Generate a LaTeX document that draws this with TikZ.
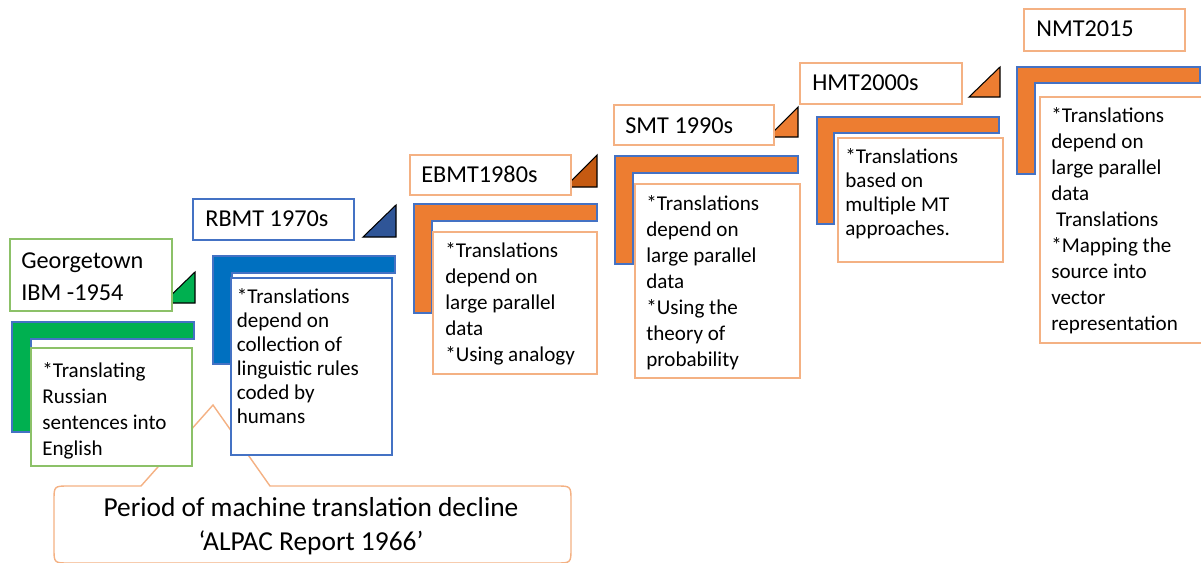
\documentclass[tikz,border=0pt]{standalone}
\usepackage{fontspec}
\setmainfont{Carlito}
\definecolor{grn}{HTML}{00B050}
\definecolor{grnline}{HTML}{8CC168}
\definecolor{blu}{HTML}{0070C0}
\definecolor{bluline}{HTML}{4472C4}
\definecolor{darkblu}{HTML}{2F5597}
\definecolor{org}{HTML}{ED7D31}
\definecolor{darkorg}{HTML}{C55A11}
\definecolor{orgline}{HTML}{F4B183}
\begin{document}
\begin{tikzpicture}
[x=0.02cm,y=-0.02cm,
 bar/.style={draw=bluline,line width=0.6pt},
 tri/.style={draw=black,line width=0.6pt},
 box/.style={fill=white,line width=0.7pt},
 title/.style={anchor=north west,inner sep=0pt,align=left,font=\fontsize{13.8}{18}\selectfont},
 desc/.style={anchor=north west,inner sep=0pt,align=left,font=\fontsize{12}{14.8}\selectfont},
 desctight/.style={desc,font=\fontsize{12}{13.66}\selectfont}]
\useasboundingbox (0,0) rectangle (1201,562);
\clip (0,0) rectangle (1201,562);

% callout
\draw[draw=orgline,line width=0.8pt,fill=white] (141,486) -- (213,405) -- (270,486)
 -- (556,486) .. controls (571,486) .. (571,501) -- (571,548) .. controls (571,563) .. (556,563)
 -- (69,563) .. controls (54,563) .. (54,548) -- (54,501) .. controls (54,486) .. (69,486) -- cycle;
\node[anchor=north,inner sep=0pt,align=center,font=\fontsize{15.6}{19.5}\selectfont] (decline)
 at (311,491.7) {\strut Period of machine translation decline\\‘ALPAC Report 1966’};

% Georgetown
\draw[bar,fill=grn] (12,322) -- (194,322) -- (194,339) -- (31,339) -- (31,432) -- (12,432) -- cycle;
\draw[box,draw=grnline] (31,348) rectangle (192,466);
\node[desc] (geo-txt) at (42,359) {\strut*Translating\\Russian\\sentences into\\English};
\draw[tri,fill=grn] (163,303) -- (195,303) -- (195,272) -- cycle;
\draw[box,draw=grnline] (10,239) rectangle (172,311);
\node[title] (geo) at (21,246) {\strut Georgetown\\IBM -1954};

% RBMT
\draw[bar,fill=blu] (213,256) -- (395,256) -- (395,273) -- (232,273) -- (232,364) -- (213,364) -- cycle;
\draw[box,draw=bluline] (231,278) rectangle (392,455);
\node[desctight] (rbmt-txt) at (236.5,286) {\strut*Translations\\depend on\\collection of\\linguistic rules\\coded by\\humans};
\draw[tri,fill=darkblu] (363,237) -- (396,237) -- (396,205) -- cycle;
\draw[box,draw=bluline] (193,199) rectangle (354,240);
\node[title] (rbmt) at (205,204) {\strut RBMT 1970s};

% EBMT
\draw[bar,fill=org] (414,204) -- (597,204) -- (597,221) -- (432,221) -- (432,313) -- (414,313) -- cycle;
\draw[box,draw=orgline] (433,232) rectangle (597,374);
\node[desc] (ebmt-txt) at (445,239) {\strut*Translations\\depend on\\large parallel\\data\\*Using analogy};
\draw[tri,fill=darkorg] (565,187) -- (597,187) -- (597,155) -- cycle;
\draw[box,draw=orgline] (410,155) rectangle (571,195);
\node[title] (ebmt) at (421,159.6) {\strut EBMT1980s};

% SMT
\draw[bar,fill=org] (615,156) -- (798,156) -- (798,173) -- (633,173) -- (633,264) -- (615,264) -- cycle;
\draw[box,draw=orgline] (635,184) rectangle (800,378);
\node[desc] (smt-txt) at (646,192) {\strut*Translations\\depend on\\large parallel\\data\\*Using the\\theory of\\probability};
\draw[tri,fill=org] (768,137) -- (798,137) -- (798,107) -- cycle;
\draw[box,draw=orgline] (614,105) rectangle (774,145);
\node[title] (smt) at (625,110.6) {\strut SMT 1990s};

% HMT
\draw[bar,fill=org] (817,117) -- (999,117) -- (999,133) -- (834,133) -- (834,224) -- (817,224) -- cycle;
\draw[box,draw=orgline] (838,138) rectangle (1003,262);
\node[desctight] (hmt-txt) at (845,146.5) {\strut*Translations\\based on\\multiple MT\\approaches.};
\draw[tri,fill=org] (969,97) -- (1000,97) -- (1000,67) -- cycle;
\draw[box,draw=orgline] (800,63) rectangle (962,104);
\node[title] (hmt) at (812,68) {\strut HMT2000s};

% NMT
\draw[bar,fill=org] (1017,67) -- (1200,67) -- (1200,83) -- (1035,83) -- (1035,174) -- (1017,174) -- cycle;
\draw[box,draw=orgline] (1040,97) rectangle (1215,343);
\node[desc] (nmt-txt) at (1051,103.5) {\strut*Translations\\depend on\\large parallel\\data\\~Translations\\*Mapping the\\source into\\vector\\representation};
\draw[box,draw=orgline] (1024,9) rectangle (1185,51);
\node[title] (nmt) at (1036,14) {\strut NMT2015};
\end{tikzpicture}
\end{document}
